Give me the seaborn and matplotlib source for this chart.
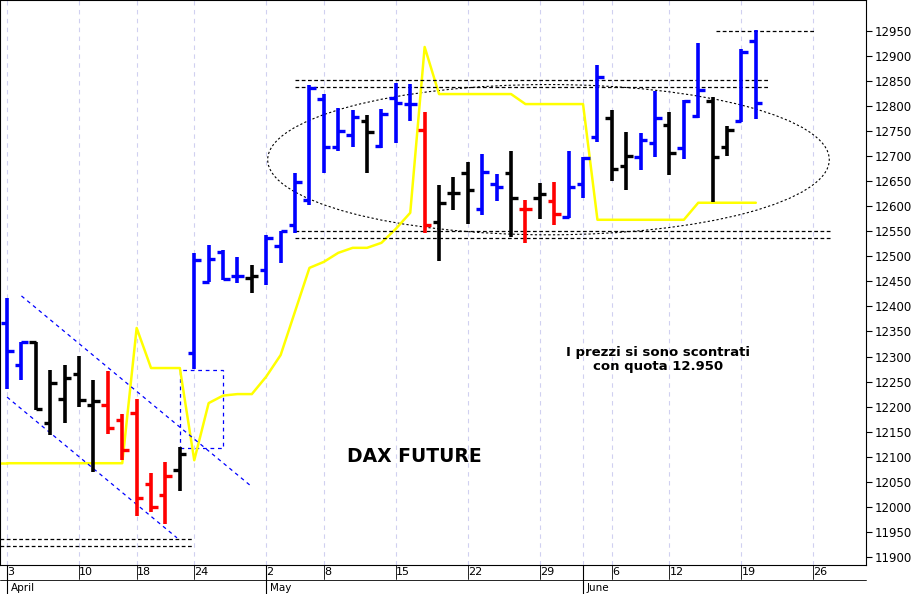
import numpy as np
import pandas as pd
import matplotlib
matplotlib.use("Agg")
import matplotlib.pyplot as plt
from matplotlib.patches import Ellipse, Rectangle
import seaborn as sns

sns.set_style("white")
plt.rcParams['font.family'] = ['DejaVu Sans']
plt.rcParams['text.color'] = 'black'
plt.rcParams['xtick.color'] = 'black'
plt.rcParams['ytick.color'] = 'black'

opens  = [12367,12283,12329,12168,12216,12266,12203,12203,12174,12188,12046,12024,12074,12307,12449,12509,12461,12457,12473,12521,12563,12613,12814,12718,12742,12770,12720,12816,12804,12752,12569,12627,12667,12595,12645,12667,12595,12617,12611,12579,12645,12738,12776,12681,12699,12727,12762,12716,12780,12810,12718,12770,12930]
highs  = [12417,12329,12329,12273,12283,12301,12253,12271,12186,12216,12068,12090,12120,12507,12523,12513,12499,12483,12543,12551,12667,12842,12824,12796,12792,12782,12794,12846,12844,12788,12643,12659,12689,12705,12665,12710,12613,12647,12649,12710,12699,12882,12792,12748,12746,12830,12788,12812,12926,12818,12760,12914,12952]
lows   = [12235,12253,12193,12144,12168,12200,12070,12146,12093,11982,11990,11966,12032,12275,12449,12453,12447,12427,12443,12487,12547,12603,12667,12710,12718,12667,12716,12726,12770,12547,12491,12593,12565,12583,12611,12539,12527,12575,12563,12577,12617,12728,12651,12633,12673,12699,12663,12694,12776,12609,12700,12768,12774]
closes = [12311,12329,12195,12247,12257,12213,12211,12157,12114,12018,11999,12062,12105,12493,12495,12455,12461,12461,12537,12551,12649,12836,12718,12750,12778,12748,12784,12806,12804,12563,12607,12627,12633,12669,12639,12617,12595,12625,12585,12639,12697,12858,12675,12701,12732,12776,12706,12810,12832,12699,12752,12908,12806]
bar_colors = list("BBKKKKKRRRRRKBBBBKBBBBBBBKBBBRKKKBBKRKRBBBKKBBKBBKKBB")
indicator = [12087]*9 + [12357,12277,12277,12277,12093,12207,12222,12225,12225,12260,12303,12390,12477,12489,12507,12517,12517,12527,12555,12587,12918] + [12824]*6 + [12804]*5 + [12573]*7 + [12607]*5
tick_pos = [0,5,9,13,18,22,27,32,37,42,46,51,56]
tick_labels = ["3","10","18","24","2","8","15","22","29","6","12","19","26"]
months = [(0,"April"),(18,"May"),(40,"June")]

cmap = {"B":"#0000ff","R":"#ff0000","K":"#000000"}
n = len(opens)
idx = np.arange(n)

fig = plt.figure(figsize=(9.18,5.94), dpi=100)
ax = fig.add_axes([0.0, 0.049, 866/918, 565/594])
ax.set_xlim(-0.49, 59.65)
ax.set_ylim(11884, 13012)

for p in tick_pos + [40]:
    ax.axvline(p, color="#d0d0f0", lw=0.8, ls=(0,(4,4)), zorder=0)

df = pd.DataFrame({"x": idx, "y": indicator})
sns.lineplot(data=df, x="x", y="y", ax=ax, color="#ffff00", lw=1.8, zorder=2)
ax.plot([-0.5, 0], [indicator[0], indicator[0]], color="#ffff00", lw=1.8, zorder=2)

cols = [cmap[c] for c in bar_colors]
ax.vlines(idx, lows, highs, colors=cols, lw=2.6, zorder=3)
ax.hlines(opens, idx-0.45, idx, colors=cols, lw=2.4, zorder=3)
ax.hlines(closes, idx, idx+0.45, colors=cols, lw=2.4, zorder=3)

# annotations
ax.hlines([11935,11921], -0.5, 12.9, colors="black", lw=0.9, ls=(0,(3,2)))
ax.hlines([12852,12838], 20, 53, colors="black", lw=0.9, ls=(0,(3,2)))
ax.hlines([12551,12537], 20, 57.2, colors="black", lw=0.9, ls=(0,(3,2)))
ax.hlines([12950], 49.2, 56.2, colors="black", lw=0.9, ls=(0,(3,2)))
ax.plot([0,11.8],[12219,11938], color="#0000ff", lw=0.9, ls=(0,(3,3)))
ax.plot([1,17],[12421,12040], color="#0000ff", lw=0.9, ls=(0,(3,3)))
ax.add_patch(Rectangle((12, 12118), 3, 156, fill=False, ec="#0000ff", lw=0.9, ls=(0,(3,3))))
ax.add_patch(Ellipse((37.6, 12693), 39, 300, fill=False, ec="black", lw=0.8, ls=(0,(2,2))))

ax.text(28.3, 12100, "DAX FUTURE", fontsize=13.5, fontweight="bold", ha="center", va="center")
ax.text(45.2, 12294, "I prezzi si sono scontrati\ncon quota 12.950", fontsize=9.5,
        fontweight="bold", ha="center", va="center", linespacing=1.1)

ax.yaxis.tick_right()
ax.set_yticks(np.arange(11900, 12951, 50))
ax.tick_params(axis="y", labelsize=8.5, length=4, direction="out", pad=2)
ax.set_xticks(tick_pos)
ax.set_xticklabels(tick_labels, ha="left", fontsize=8)
ax.tick_params(axis="x", length=0, pad=1.5)
ax.set_xlabel(""); ax.set_ylabel("")
for s in ax.spines.values():
    s.set_color("black"); s.set_linewidth(0.8)

for p, name in months:
    xf = ax.transData.transform((p, 0))[0] / fig.bbox.width
    fig.text(xf + 0.004, 0.001, name, fontsize=7.5, ha="left", va="bottom")
    fig.add_artist(plt.Line2D([xf, xf], [0, 0.049], color="black", lw=0.8))
for p in tick_pos + [40]:
    xf = ax.transData.transform((p, 0))[0] / fig.bbox.width
    fig.add_artist(plt.Line2D([xf, xf], [0.025, 0.049], color="black", lw=0.6))
fig.add_artist(plt.Line2D([0, 866/918], [0.024, 0.024], color="black", lw=0.6))

fig.savefig("out.png", dpi=100)
